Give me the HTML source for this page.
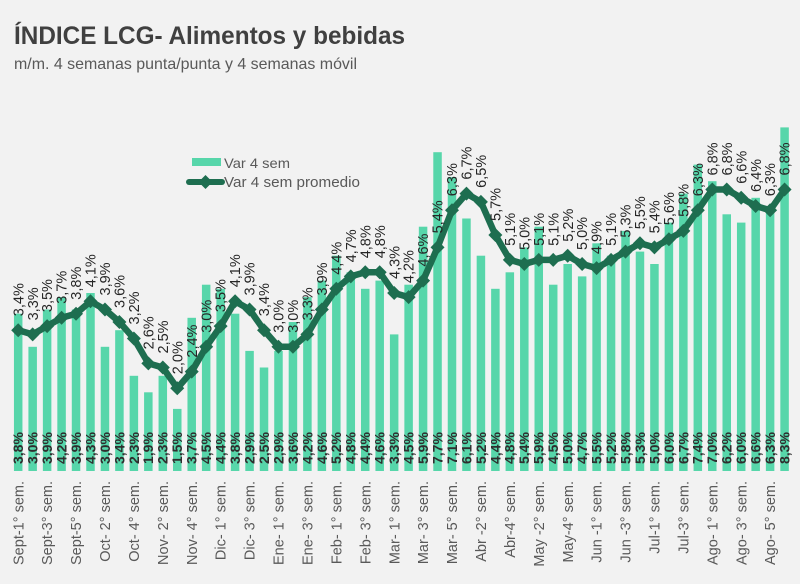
<!DOCTYPE html>
<html><head><meta charset="utf-8"><style>
html,body{margin:0;padding:0;background:#f2f2f2;}
svg{display:block;font-family:"Liberation Sans",Arial,sans-serif;}
.tl text{font-size:14.5px;fill:#262626;}
.bl text{font-size:14px;fill:#2e2e2e;font-weight:bold;}
.xl text{font-size:14.5px;fill:#595959;text-anchor:end;}
</style></head><body>
<svg width="800" height="584" viewBox="0 0 800 584" xmlns="http://www.w3.org/2000/svg">
<defs><path id="d" d="M0,-7 L7,0 L0,7 L-7,0Z" fill="#1e6e50"/></defs>
<rect width="800" height="584" fill="#f2f2f2"/>
<text x="14" y="44" font-size="25" font-weight="bold" fill="#404040" textLength="391" lengthAdjust="spacingAndGlyphs">ÍNDICE LCG- Alimentos y bebidas</text>
<text x="14" y="69" font-size="16" fill="#595959" textLength="343" lengthAdjust="spacingAndGlyphs">m/m. 4 semanas punta/punta y 4 semanas móvil</text>
<g fill="#57d6aa">
<rect x="13.95" y="313.7" width="8.5" height="157.3"/>
<rect x="28.41" y="346.8" width="8.5" height="124.2"/>
<rect x="42.87" y="309.5" width="8.5" height="161.5"/>
<rect x="57.33" y="297.1" width="8.5" height="173.9"/>
<rect x="71.79" y="309.5" width="8.5" height="161.5"/>
<rect x="86.25" y="293" width="8.5" height="178"/>
<rect x="100.71" y="346.8" width="8.5" height="124.2"/>
<rect x="115.17" y="330.2" width="8.5" height="140.8"/>
<rect x="129.63" y="375.8" width="8.5" height="95.2"/>
<rect x="144.09" y="392.3" width="8.5" height="78.7"/>
<rect x="158.55" y="375.8" width="8.5" height="95.2"/>
<rect x="173.01" y="408.9" width="8.5" height="62.1"/>
<rect x="187.47" y="317.8" width="8.5" height="153.2"/>
<rect x="201.93" y="284.7" width="8.5" height="186.3"/>
<rect x="216.39" y="288.8" width="8.5" height="182.2"/>
<rect x="230.85" y="313.7" width="8.5" height="157.3"/>
<rect x="245.31" y="350.9" width="8.5" height="120.1"/>
<rect x="259.77" y="367.5" width="8.5" height="103.5"/>
<rect x="274.23" y="350.9" width="8.5" height="120.1"/>
<rect x="288.69" y="322" width="8.5" height="149"/>
<rect x="303.15" y="297.1" width="8.5" height="173.9"/>
<rect x="317.61" y="280.6" width="8.5" height="190.4"/>
<rect x="332.07" y="255.7" width="8.5" height="215.3"/>
<rect x="346.53" y="272.3" width="8.5" height="198.7"/>
<rect x="360.99" y="288.8" width="8.5" height="182.2"/>
<rect x="375.45" y="280.6" width="8.5" height="190.4"/>
<rect x="389.91" y="334.4" width="8.5" height="136.6"/>
<rect x="404.37" y="284.7" width="8.5" height="186.3"/>
<rect x="418.83" y="226.7" width="8.5" height="244.3"/>
<rect x="433.29" y="152.2" width="8.5" height="318.8"/>
<rect x="447.75" y="177.1" width="8.5" height="293.9"/>
<rect x="462.21" y="218.5" width="8.5" height="252.5"/>
<rect x="476.67" y="255.7" width="8.5" height="215.3"/>
<rect x="491.13" y="288.8" width="8.5" height="182.2"/>
<rect x="505.59" y="272.3" width="8.5" height="198.7"/>
<rect x="520.05" y="247.4" width="8.5" height="223.6"/>
<rect x="534.51" y="226.7" width="8.5" height="244.3"/>
<rect x="548.97" y="284.7" width="8.5" height="186.3"/>
<rect x="563.43" y="264" width="8.5" height="207"/>
<rect x="577.89" y="276.4" width="8.5" height="194.6"/>
<rect x="592.35" y="243.3" width="8.5" height="227.7"/>
<rect x="606.81" y="255.7" width="8.5" height="215.3"/>
<rect x="621.27" y="230.9" width="8.5" height="240.1"/>
<rect x="635.73" y="251.6" width="8.5" height="219.4"/>
<rect x="650.19" y="264" width="8.5" height="207"/>
<rect x="664.65" y="222.6" width="8.5" height="248.4"/>
<rect x="679.11" y="193.6" width="8.5" height="277.4"/>
<rect x="693.57" y="164.6" width="8.5" height="306.4"/>
<rect x="708.03" y="181.2" width="8.5" height="289.8"/>
<rect x="722.49" y="214.3" width="8.5" height="256.7"/>
<rect x="736.95" y="222.6" width="8.5" height="248.4"/>
<rect x="751.41" y="197.8" width="8.5" height="273.2"/>
<rect x="765.87" y="210.2" width="8.5" height="260.8"/>
<rect x="780.33" y="127.4" width="8.5" height="343.6"/>
</g>
<polyline fill="none" stroke="#1e6e50" stroke-width="6.5" stroke-linejoin="round" points="18.2,330.2 32.66,334.4 47.12,326.1 61.58,317.8 76.04,313.7 90.5,301.3 104.96,309.5 119.42,322 133.88,338.5 148.34,363.4 162.8,367.5 177.26,388.2 191.72,371.6 206.18,346.8 220.64,326.1 235.1,301.3 249.56,309.5 264.02,330.2 278.48,346.8 292.94,346.8 307.4,334.4 321.86,309.5 336.32,288.8 350.78,276.4 365.24,272.3 379.7,272.3 394.16,293 408.62,297.1 423.08,280.6 437.54,247.4 452,210.2 466.46,193.6 480.92,201.9 495.38,235 509.84,259.9 524.3,264 538.76,259.9 553.22,259.9 567.68,255.7 582.14,264 596.6,268.1 611.06,259.9 625.52,251.6 639.98,243.3 654.44,247.4 668.9,239.2 683.36,230.9 697.82,210.2 712.28,189.5 726.74,189.5 741.2,197.8 755.66,206 770.12,210.2 784.58,189.5"/>
<g>
<use href="#d" x="18.2" y="330.2"/><use href="#d" x="32.66" y="334.4"/><use href="#d" x="47.12" y="326.1"/><use href="#d" x="61.58" y="317.8"/><use href="#d" x="76.04" y="313.7"/><use href="#d" x="90.5" y="301.3"/><use href="#d" x="104.96" y="309.5"/><use href="#d" x="119.42" y="322"/><use href="#d" x="133.88" y="338.5"/><use href="#d" x="148.34" y="363.4"/><use href="#d" x="162.8" y="367.5"/><use href="#d" x="177.26" y="388.2"/><use href="#d" x="191.72" y="371.6"/><use href="#d" x="206.18" y="346.8"/><use href="#d" x="220.64" y="326.1"/><use href="#d" x="235.1" y="301.3"/><use href="#d" x="249.56" y="309.5"/><use href="#d" x="264.02" y="330.2"/><use href="#d" x="278.48" y="346.8"/><use href="#d" x="292.94" y="346.8"/><use href="#d" x="307.4" y="334.4"/><use href="#d" x="321.86" y="309.5"/><use href="#d" x="336.32" y="288.8"/><use href="#d" x="350.78" y="276.4"/><use href="#d" x="365.24" y="272.3"/><use href="#d" x="379.7" y="272.3"/><use href="#d" x="394.16" y="293"/><use href="#d" x="408.62" y="297.1"/><use href="#d" x="423.08" y="280.6"/><use href="#d" x="437.54" y="247.4"/><use href="#d" x="452" y="210.2"/><use href="#d" x="466.46" y="193.6"/><use href="#d" x="480.92" y="201.9"/><use href="#d" x="495.38" y="235"/><use href="#d" x="509.84" y="259.9"/><use href="#d" x="524.3" y="264"/><use href="#d" x="538.76" y="259.9"/><use href="#d" x="553.22" y="259.9"/><use href="#d" x="567.68" y="255.7"/><use href="#d" x="582.14" y="264"/><use href="#d" x="596.6" y="268.1"/><use href="#d" x="611.06" y="259.9"/><use href="#d" x="625.52" y="251.6"/><use href="#d" x="639.98" y="243.3"/><use href="#d" x="654.44" y="247.4"/><use href="#d" x="668.9" y="239.2"/><use href="#d" x="683.36" y="230.9"/><use href="#d" x="697.82" y="210.2"/><use href="#d" x="712.28" y="189.5"/><use href="#d" x="726.74" y="189.5"/><use href="#d" x="741.2" y="197.8"/><use href="#d" x="755.66" y="206"/><use href="#d" x="770.12" y="210.2"/><use href="#d" x="784.58" y="189.5"/>
</g>
<g class="tl">
<text transform="translate(23.3,316.2) rotate(-90)">3,4%</text>
<text transform="translate(37.76,320.4) rotate(-90)">3,3%</text>
<text transform="translate(52.22,312.1) rotate(-90)">3,5%</text>
<text transform="translate(66.68,303.8) rotate(-90)">3,7%</text>
<text transform="translate(81.14,299.7) rotate(-90)">3,8%</text>
<text transform="translate(95.6,287.3) rotate(-90)">4,1%</text>
<text transform="translate(110.06,295.5) rotate(-90)">3,9%</text>
<text transform="translate(124.52,308) rotate(-90)">3,6%</text>
<text transform="translate(138.98,324.5) rotate(-90)">3,2%</text>
<text transform="translate(153.44,349.4) rotate(-90)">2,6%</text>
<text transform="translate(167.9,353.5) rotate(-90)">2,5%</text>
<text transform="translate(182.36,374.2) rotate(-90)">2,0%</text>
<text transform="translate(196.82,357.6) rotate(-90)">2,4%</text>
<text transform="translate(211.28,332.8) rotate(-90)">3,0%</text>
<text transform="translate(225.74,312.1) rotate(-90)">3,5%</text>
<text transform="translate(240.2,287.3) rotate(-90)">4,1%</text>
<text transform="translate(254.66,295.5) rotate(-90)">3,9%</text>
<text transform="translate(269.12,316.2) rotate(-90)">3,4%</text>
<text transform="translate(283.58,332.8) rotate(-90)">3,0%</text>
<text transform="translate(298.04,332.8) rotate(-90)">3,0%</text>
<text transform="translate(312.5,320.4) rotate(-90)">3,3%</text>
<text transform="translate(326.96,295.5) rotate(-90)">3,9%</text>
<text transform="translate(341.42,274.8) rotate(-90)">4,4%</text>
<text transform="translate(355.88,262.4) rotate(-90)">4,7%</text>
<text transform="translate(370.34,258.3) rotate(-90)">4,8%</text>
<text transform="translate(384.8,258.3) rotate(-90)">4,8%</text>
<text transform="translate(399.26,279) rotate(-90)">4,3%</text>
<text transform="translate(413.72,283.1) rotate(-90)">4,2%</text>
<text transform="translate(428.18,266.6) rotate(-90)">4,6%</text>
<text transform="translate(442.64,233.4) rotate(-90)">5,4%</text>
<text transform="translate(457.1,196.2) rotate(-90)">6,3%</text>
<text transform="translate(471.56,179.6) rotate(-90)">6,7%</text>
<text transform="translate(486.02,187.9) rotate(-90)">6,5%</text>
<text transform="translate(500.48,221) rotate(-90)">5,7%</text>
<text transform="translate(514.94,245.9) rotate(-90)">5,1%</text>
<text transform="translate(529.4,250) rotate(-90)">5,0%</text>
<text transform="translate(543.86,245.9) rotate(-90)">5,1%</text>
<text transform="translate(558.32,245.9) rotate(-90)">5,1%</text>
<text transform="translate(572.78,241.7) rotate(-90)">5,2%</text>
<text transform="translate(587.24,250) rotate(-90)">5,0%</text>
<text transform="translate(601.7,254.1) rotate(-90)">4,9%</text>
<text transform="translate(616.16,245.9) rotate(-90)">5,1%</text>
<text transform="translate(630.62,237.6) rotate(-90)">5,3%</text>
<text transform="translate(645.08,229.3) rotate(-90)">5,5%</text>
<text transform="translate(659.54,233.4) rotate(-90)">5,4%</text>
<text transform="translate(674,225.2) rotate(-90)">5,6%</text>
<text transform="translate(688.46,216.9) rotate(-90)">5,8%</text>
<text transform="translate(702.92,196.2) rotate(-90)">6,3%</text>
<text transform="translate(717.38,175.5) rotate(-90)">6,8%</text>
<text transform="translate(731.84,175.5) rotate(-90)">6,8%</text>
<text transform="translate(746.3,183.8) rotate(-90)">6,6%</text>
<text transform="translate(760.76,192) rotate(-90)">6,4%</text>
<text transform="translate(775.22,196.2) rotate(-90)">6,3%</text>
<text transform="translate(789.68,175.5) rotate(-90)">6,8%</text>
</g>
<g class="bl">
<text transform="translate(23.1,464) rotate(-90)">3,8%</text>
<text transform="translate(37.56,464) rotate(-90)">3,0%</text>
<text transform="translate(52.02,464) rotate(-90)">3,9%</text>
<text transform="translate(66.48,464) rotate(-90)">4,2%</text>
<text transform="translate(80.94,464) rotate(-90)">3,9%</text>
<text transform="translate(95.4,464) rotate(-90)">4,3%</text>
<text transform="translate(109.86,464) rotate(-90)">3,0%</text>
<text transform="translate(124.32,464) rotate(-90)">3,4%</text>
<text transform="translate(138.78,464) rotate(-90)">2,3%</text>
<text transform="translate(153.24,464) rotate(-90)">1,9%</text>
<text transform="translate(167.7,464) rotate(-90)">2,3%</text>
<text transform="translate(182.16,464) rotate(-90)">1,5%</text>
<text transform="translate(196.62,464) rotate(-90)">3,7%</text>
<text transform="translate(211.08,464) rotate(-90)">4,5%</text>
<text transform="translate(225.54,464) rotate(-90)">4,4%</text>
<text transform="translate(240,464) rotate(-90)">3,8%</text>
<text transform="translate(254.46,464) rotate(-90)">2,9%</text>
<text transform="translate(268.92,464) rotate(-90)">2,5%</text>
<text transform="translate(283.38,464) rotate(-90)">2,9%</text>
<text transform="translate(297.84,464) rotate(-90)">3,6%</text>
<text transform="translate(312.3,464) rotate(-90)">4,2%</text>
<text transform="translate(326.76,464) rotate(-90)">4,6%</text>
<text transform="translate(341.22,464) rotate(-90)">5,2%</text>
<text transform="translate(355.68,464) rotate(-90)">4,8%</text>
<text transform="translate(370.14,464) rotate(-90)">4,4%</text>
<text transform="translate(384.6,464) rotate(-90)">4,6%</text>
<text transform="translate(399.06,464) rotate(-90)">3,3%</text>
<text transform="translate(413.52,464) rotate(-90)">4,5%</text>
<text transform="translate(427.98,464) rotate(-90)">5,9%</text>
<text transform="translate(442.44,464) rotate(-90)">7,7%</text>
<text transform="translate(456.9,464) rotate(-90)">7,1%</text>
<text transform="translate(471.36,464) rotate(-90)">6,1%</text>
<text transform="translate(485.82,464) rotate(-90)">5,2%</text>
<text transform="translate(500.28,464) rotate(-90)">4,4%</text>
<text transform="translate(514.74,464) rotate(-90)">4,8%</text>
<text transform="translate(529.2,464) rotate(-90)">5,4%</text>
<text transform="translate(543.66,464) rotate(-90)">5,9%</text>
<text transform="translate(558.12,464) rotate(-90)">4,5%</text>
<text transform="translate(572.58,464) rotate(-90)">5,0%</text>
<text transform="translate(587.04,464) rotate(-90)">4,7%</text>
<text transform="translate(601.5,464) rotate(-90)">5,5%</text>
<text transform="translate(615.96,464) rotate(-90)">5,2%</text>
<text transform="translate(630.42,464) rotate(-90)">5,8%</text>
<text transform="translate(644.88,464) rotate(-90)">5,3%</text>
<text transform="translate(659.34,464) rotate(-90)">5,0%</text>
<text transform="translate(673.8,464) rotate(-90)">6,0%</text>
<text transform="translate(688.26,464) rotate(-90)">6,7%</text>
<text transform="translate(702.72,464) rotate(-90)">7,4%</text>
<text transform="translate(717.18,464) rotate(-90)">7,0%</text>
<text transform="translate(731.64,464) rotate(-90)">6,2%</text>
<text transform="translate(746.1,464) rotate(-90)">6,0%</text>
<text transform="translate(760.56,464) rotate(-90)">6,6%</text>
<text transform="translate(775.02,464) rotate(-90)">6,3%</text>
<text transform="translate(789.48,464) rotate(-90)">8,3%</text>
</g>
<g class="xl">
<text transform="translate(23.3,481) rotate(-90)">Sept-1° sem.</text>
<text transform="translate(52.22,481) rotate(-90)">Sept-3° sem.</text>
<text transform="translate(81.14,481) rotate(-90)">Sept-5° sem.</text>
<text transform="translate(110.06,481) rotate(-90)">Oct- 2° sem.</text>
<text transform="translate(138.98,481) rotate(-90)">Oct- 4° sem.</text>
<text transform="translate(167.9,481) rotate(-90)">Nov- 2° sem.</text>
<text transform="translate(196.82,481) rotate(-90)">Nov- 4° sem.</text>
<text transform="translate(225.74,481) rotate(-90)">Dic- 1° sem.</text>
<text transform="translate(254.66,481) rotate(-90)">Dic- 3° sem.</text>
<text transform="translate(283.58,481) rotate(-90)">Ene- 1° sem.</text>
<text transform="translate(312.5,481) rotate(-90)">Ene- 3° sem.</text>
<text transform="translate(341.42,481) rotate(-90)">Feb- 1° sem.</text>
<text transform="translate(370.34,481) rotate(-90)">Feb- 3° sem.</text>
<text transform="translate(399.26,481) rotate(-90)">Mar- 1° sem.</text>
<text transform="translate(428.18,481) rotate(-90)">Mar- 3° sem.</text>
<text transform="translate(457.1,481) rotate(-90)">Mar- 5° sem.</text>
<text transform="translate(486.02,481) rotate(-90)">Abr -2° sem.</text>
<text transform="translate(514.94,481) rotate(-90)">Abr-4° sem.</text>
<text transform="translate(543.86,481) rotate(-90)">May -2° sem.</text>
<text transform="translate(572.78,481) rotate(-90)">May-4° sem.</text>
<text transform="translate(601.7,481) rotate(-90)">Jun -1° sem.</text>
<text transform="translate(630.62,481) rotate(-90)">Jun -3° sem.</text>
<text transform="translate(659.54,481) rotate(-90)">Jul-1° sem.</text>
<text transform="translate(688.46,481) rotate(-90)">Jul-3° sem.</text>
<text transform="translate(717.38,481) rotate(-90)">Ago- 1° sem.</text>
<text transform="translate(746.3,481) rotate(-90)">Ago- 3° sem.</text>
<text transform="translate(775.22,481) rotate(-90)">Ago- 5° sem.</text>
</g>
<rect x="192" y="158" width="29" height="8" fill="#57d6aa"/>
<text x="224" y="168" font-size="14" fill="#595959" textLength="66" lengthAdjust="spacingAndGlyphs">Var 4 sem</text>
<line x1="189" y1="182" x2="222" y2="182" stroke="#1e6e50" stroke-width="6" stroke-linecap="round"/>
<use href="#d" x="205.5" y="182"/>
<text x="224" y="187" font-size="14.5" fill="#595959" textLength="136" lengthAdjust="spacingAndGlyphs">Var 4 sem promedio</text>
</svg>
</body></html>
